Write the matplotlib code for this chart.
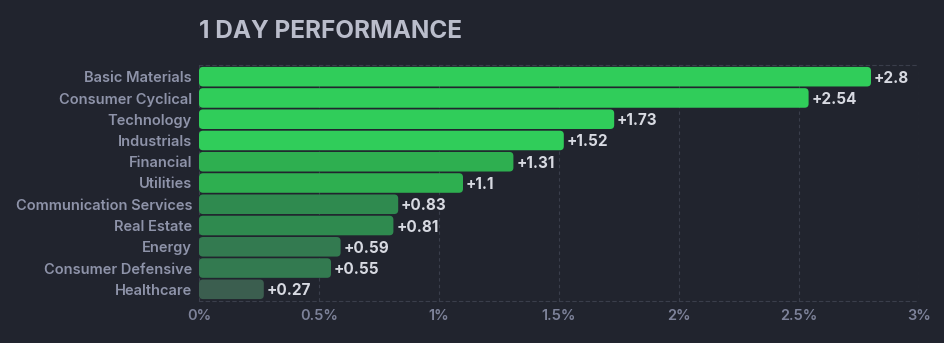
import matplotlib
matplotlib.use('Agg')
import matplotlib.pyplot as plt
from matplotlib.patches import FancyBboxPatch

sectors = ['Basic Materials', 'Consumer Cyclical', 'Technology', 'Industrials',
           'Financial', 'Utilities', 'Communication Services', 'Real Estate',
           'Energy', 'Consumer Defensive', 'Healthcare']
changes = [2.8, 2.54, 1.73, 1.52, 1.31, 1.1, 0.83, 0.81, 0.59, 0.55, 0.27]
tick_values = [0, 0.5, 1, 1.5, 2, 2.5, 3]
tick_labels = ['0%', '0.5%', '1%', '1.5%', '2%', '2.5%', '3%']

bg = '#21242e'
grid_color = '#3a3e4b'


def bar_color(v):
    # brighter green for stronger moves
    if v >= 1.5:
        return '#30cd5a'
    if v >= 1.0:
        return '#2eaf50'
    if v >= 0.7:
        return '#2f8a4f'
    if v >= 0.4:
        return '#337a50'
    return '#3b5e4f'


plt.rcParams['font.family'] = ['Inter', 'DejaVu Sans']

fig = plt.figure(figsize=(9.44, 3.43), dpi=100, facecolor=bg)
ax = fig.add_axes([199 / 944, 1 - 301 / 343, 720 / 944, 236 / 343])
ax.set_facecolor(bg)

ax.set_xlim(0, 3)
ax.set_ylim(len(sectors) - 0.45, -0.55)

# data units per pixel, used to keep the corner radius round
px_x = 3 / (fig.dpi * fig.get_figwidth() * ax.get_position().width)
px_y = len(sectors) / (fig.dpi * fig.get_figheight() * ax.get_position().height)

bar_h = 0.92
radius = 4 * px_x
for i, v in enumerate(changes):
    patch = FancyBboxPatch((0, i - bar_h / 2), v, bar_h,
                           boxstyle=f'round,pad=0,rounding_size={radius}',
                           mutation_aspect=px_y / px_x,
                           facecolor=bar_color(v), edgecolor='none', zorder=3)
    ax.add_patch(patch)
    ax.annotate(f'+{v:g}', (v, i), xytext=(2, 0), textcoords='offset points',
                va='center_baseline', ha='left', fontsize=11, fontweight='bold',
                color='#d7d9e1', zorder=4)

ax.set_yticks(range(len(sectors)))
ax.set_yticklabels(sectors)
ax.set_xticks(tick_values)
ax.set_xticklabels(tick_labels)
ax.tick_params(axis='y', length=0, pad=5, labelsize=10.5, labelcolor='#8e93a9')
ax.tick_params(axis='x', length=0, pad=6, labelsize=10.5, labelcolor='#7d8299')
for lbl in ax.get_yticklabels():
    lbl.set_fontweight('semibold')
    lbl.set_va('center_baseline')
for lbl in ax.get_xticklabels():
    lbl.set_fontweight('semibold')

ax.grid(axis='x', color=grid_color, linestyle=(0, (3, 3)), linewidth=0.8, zorder=0)
for side in ['left', 'right']:
    ax.spines[side].set_visible(False)
for side in ['top', 'bottom']:
    ax.spines[side].set_color(grid_color)
    ax.spines[side].set_linestyle((0, (3, 3)))
    ax.spines[side].set_linewidth(0.8)

fig.text(199 / 944, 1 - 31 / 343, '1 DAY PERFORMANCE', fontsize=17.5, fontweight='bold',
         color='#babdcb', va='center', ha='left')

fig.savefig('out.png', dpi=100, facecolor=bg)
